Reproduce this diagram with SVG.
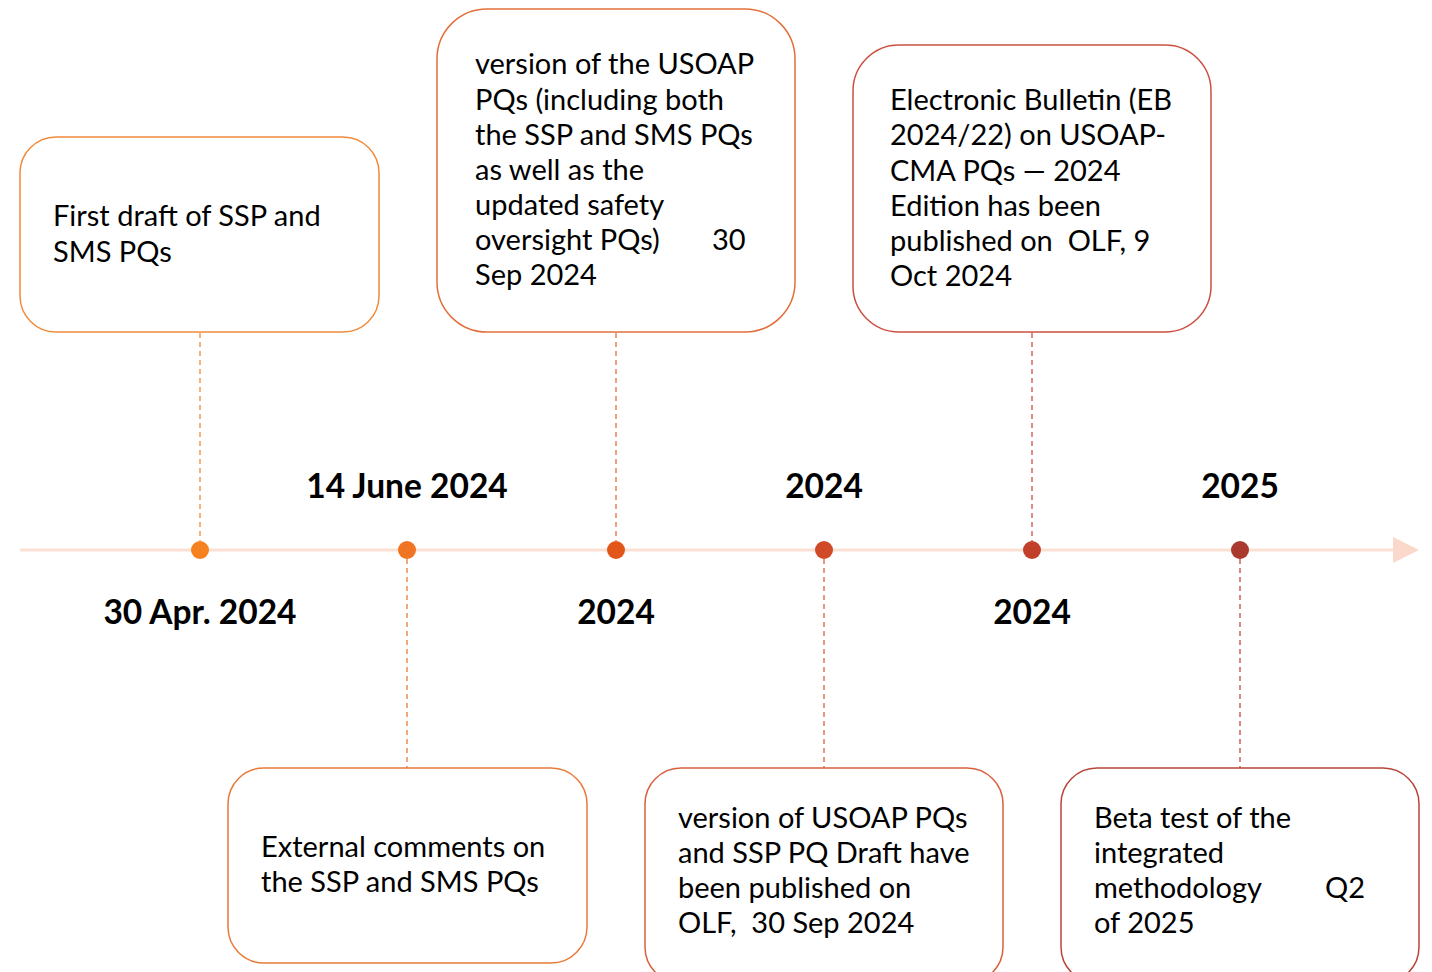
<svg xmlns="http://www.w3.org/2000/svg" width="1432" height="972" viewBox="0 0 1432 972">
<style>
.box{fill:#fff;stroke-width:1.5}
.t{font-family:Lato,"Liberation Sans",sans-serif;font-size:29px;fill:#000;white-space:pre}
.d{font-family:Lato,"Liberation Sans",sans-serif;font-size:33.5px;font-weight:bold;fill:#000;text-anchor:middle}
.dash{stroke-width:1.3;stroke-dasharray:5 4;fill:none}
</style>
<rect width="1432" height="972" fill="#fff"/>
<g id="connectors">
<line x1="20" y1="550" x2="1395" y2="550" stroke="#FCE0D4" stroke-width="3"/>
<polygon points="1393,537 1419,550 1393,563" fill="#FAD8CC"/>
<line class="dash" x1="200" y1="333" x2="200" y2="541" stroke="#F08B3C"/>
<line class="dash" x1="407" y1="559" x2="407" y2="768" stroke="#E87A3A"/>
<line class="dash" x1="616" y1="333" x2="616" y2="541" stroke="#E2703D"/>
<line class="dash" x1="824" y1="559" x2="824" y2="768" stroke="#D9603E"/>
<line class="dash" x1="1032" y1="333" x2="1032" y2="541" stroke="#CC5040"/>
<line class="dash" x1="1240" y1="559" x2="1240" y2="768" stroke="#C04A40"/>
</g>
<g id="dots">
<circle cx="200" cy="550" r="9" fill="#F5821F"/>
<circle cx="407" cy="550" r="9" fill="#F07421"/>
<circle cx="616" cy="550" r="9" fill="#E2561A"/>
<circle cx="824" cy="550" r="9" fill="#D04A28"/>
<circle cx="1032" cy="550" r="9" fill="#C2402A"/>
<circle cx="1240" cy="550" r="9" fill="#AA3A2E"/>
</g>
<g id="dates">
<text class="d" x="200" y="624">30 Apr. 2024</text>
<text class="d" x="407" y="498">14 June 2024</text>
<text class="d" x="616" y="624">2024</text>
<text class="d" x="824" y="498">2024</text>
<text class="d" x="1032" y="624">2024</text>
<text class="d" x="1240" y="498">2025</text>
</g>
<g id="node1">
<rect class="box" x="20" y="137" width="359" height="195" rx="36" stroke="#F08B3C"/>
<text class="t"><tspan x="53" y="226">First draft of SSP and</tspan><tspan x="53" y="262">SMS PQs</tspan></text>
</g>
<g id="node2">
<rect class="box" x="437" y="9" width="358" height="323" rx="50" stroke="#E2703D"/>
<text class="t"><tspan x="475" y="74">version of the USOAP</tspan><tspan x="475" y="110">PQs (including both</tspan><tspan x="475" y="145">the SSP and SMS PQs</tspan><tspan x="475" y="180">as well as the</tspan><tspan x="475" y="215">updated safety</tspan><tspan x="475" y="250">oversight PQs)</tspan><tspan x="712" y="250">30</tspan><tspan x="475" y="285">Sep 2024</tspan></text>
</g>
<g id="node3">
<rect class="box" x="853" y="45" width="358" height="287" rx="46" stroke="#CC5040"/>
<text class="t"><tspan x="890" y="110">Electronic Bulletin (EB</tspan><tspan x="890" y="145">2024/22) on USOAP-</tspan><tspan x="890" y="181">CMA PQs — 2024</tspan><tspan x="890" y="216">Edition has been</tspan><tspan x="890" y="251">published on  OLF, 9</tspan><tspan x="890" y="286">Oct 2024</tspan></text>
</g>
<g id="node4">
<rect class="box" x="228" y="768" width="359" height="195" rx="36" stroke="#E87A3A"/>
<text class="t"><tspan x="261" y="857">External comments on</tspan><tspan x="261" y="892">the SSP and SMS PQs</tspan></text>
</g>
<g id="node5">
<rect class="box" x="645" y="768" width="358" height="215" rx="36" stroke="#D9603E"/>
<text class="t"><tspan x="678" y="828">version of USOAP PQs</tspan><tspan x="678" y="863">and SSP PQ Draft have</tspan><tspan x="678" y="898">been published on</tspan><tspan x="678" y="933">OLF,  30 Sep 2024</tspan></text>
</g>
<g id="node6">
<rect class="box" x="1061" y="768" width="358" height="215" rx="36" stroke="#B8453A"/>
<text class="t"><tspan x="1094" y="828">Beta test of the</tspan><tspan x="1094" y="863">integrated</tspan><tspan x="1094" y="898">methodology</tspan><tspan x="1325" y="898">Q2</tspan><tspan x="1094" y="933">of 2025</tspan></text>
</g>
</svg>
